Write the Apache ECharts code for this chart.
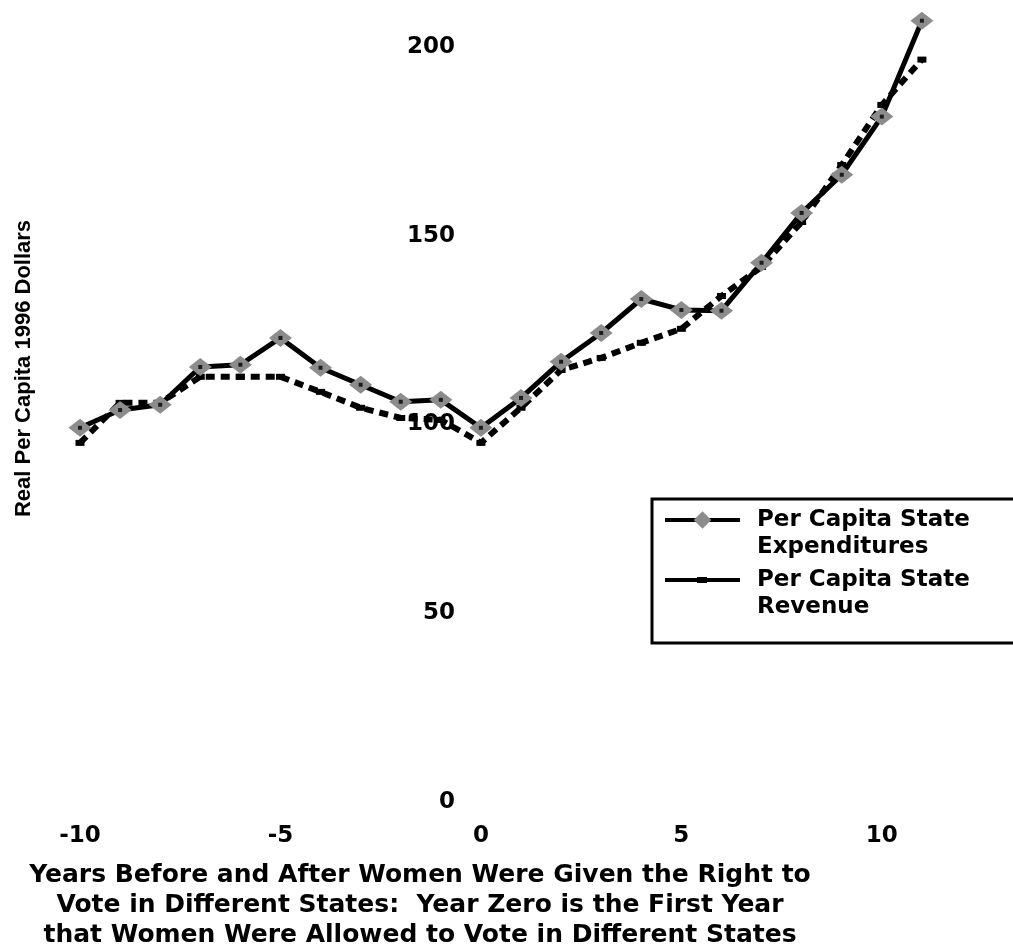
<!DOCTYPE html>
<html>
<head>
<meta charset="utf-8">
<script src="https://cdn.jsdelivr.net/npm/echarts@6/dist/echarts.min.js"></script>
<style>html,body{margin:0;padding:0;background:#fff;}#c{width:1013px;height:945px;}</style>
</head>
<body>
<div id="c"></div>
<script>
const years = [-10,-9,-8,-7,-6,-5,-4,-3,-2,-1,0,1,2,3,4,5,6,7,8,9,10,11];
const expenditures = [99.1,103.8,105.2,115.2,115.8,122.9,115.0,110.5,106.0,106.5,99.1,107.0,116.6,124.2,133.2,130.3,130.1,142.8,156.0,166.1,181.5,206.9];
const revenue = [95.1,105.7,105.7,112.6,112.6,112.6,108.6,104.4,101.7,101.2,95.1,104.4,114.4,117.6,121.6,125.3,134.0,141.7,153.6,168.7,184.6,196.6];
const seriesNames = ['Per Capita State\nExpenditures', 'Per Capita State\nRevenue'];
const xTitle = 'Years Before and After Women Were Given the Right to\nVote in Different States:  Year Zero is the First Year\nthat Women Were Allowed to Vote in Different States';
const yTitle = 'Real Per Capita 1996 Dollars';

const pair = (xs, ys) => xs.map((x, i) => [x, ys[i]]);
const chart = echarts.init(document.getElementById('c'), null, {renderer: 'canvas'});
const tickFont = {fontFamily: 'DejaVu Sans', fontWeight: 'bold', fontSize: 23, color: '#000'};
chart.setOption({
  animation: false,
  backgroundColor: '#fff',
  grid: {left: 80, right: 51, top: 9, bottom: 143, containLabel: false, outerBoundsMode: 'none'},
  xAxis: {
    type: 'value', min: -10, max: 12, interval: 5,
    axisLine: {show: false, onZero: false}, axisTick: {show: false}, splitLine: {show: false},
    axisLabel: Object.assign({margin: 23, formatter: v => (v % 5 === 0 && v <= 10) ? String(v) : ''}, tickFont),
    name: xTitle, nameLocation: 'middle', nameGap: 58,
    nameTextStyle: {fontFamily: 'DejaVu Sans', fontWeight: 'bold', fontSize: 25, color: '#000', lineHeight: 30, padding: [0, 202, 0, 0]}
  },
  yAxis: {
    type: 'value', min: 0, max: 210, interval: 50, offset: 0,
    axisLine: {show: false, onZero: true}, axisTick: {show: false}, splitLine: {show: false},
    axisLabel: Object.assign({margin: 26, formatter: v => (v % 50 === 0) ? String(v) : ''}, tickFont),
    name: yTitle, nameLocation: 'middle', nameGap: 446,
    nameTextStyle: {fontFamily: 'Liberation Sans', fontWeight: 'bold', fontSize: 22, color: '#000', padding: [0, 0, 0, 74]}
  },
  legend: {
    orient: 'vertical', left: 663, top: 479.5, padding: 0, itemGap: -21,
    itemWidth: 75, itemHeight: 22, symbolKeepAspect: true,
    formatter: name => ' \n' + name,
    textStyle: {fontFamily: 'DejaVu Sans', fontWeight: 'bold', fontSize: 23, color: '#000', lineHeight: 27, padding: [0, 0, 0, 12]},
    data: [
      {name: seriesNames[0], lineStyle: {type: 'solid', width: 4, color: '#000'}},
      {name: seriesNames[1], icon: 'path://M0,0h0.01v0.01h-0.01z M0,9h75v4h-75z M32,8h10v6h-10z M74.99,21.99h0.01v0.01h-0.01z', itemStyle: {color: '#000'}}
    ]
  },
  graphic: [{
    type: 'rect', z: -1, silent: true,
    shape: {x: 652, y: 499, width: 366, height: 144},
    style: {fill: null, stroke: '#000', lineWidth: 3}
  }],
  series: [
    {
      name: seriesNames[1], type: 'line', data: pair(years, revenue), z: 2,
      lineStyle: {color: '#000', width: 6, type: [9, 6]},
      itemStyle: {color: '#000'},
      symbol: 'rect', symbolSize: [9, 6], showSymbol: true
    },
    {
      name: seriesNames[0], type: 'line', data: pair(years, expenditures), z: 3,
      lineStyle: {color: '#000', width: 5},
      itemStyle: {color: '#8c8c8c'},
      symbol: 'diamond', symbolSize: [23, 18], showSymbol: true
    },
    {
      name: 'dots', type: 'scatter', data: pair(years, expenditures), z: 4, silent: true,
      symbol: 'rect', symbolSize: 4, itemStyle: {color: '#000'}
    }
  ]
});
// place the value axis where x = 0, using the library's own x scale
const leftPx = chart.convertToPixel({xAxisIndex: 0}, -10);
const zeroPx = chart.convertToPixel({xAxisIndex: 0}, 0);
chart.setOption({yAxis: {offset: leftPx - zeroPx}});
</script>
</body>
</html>
